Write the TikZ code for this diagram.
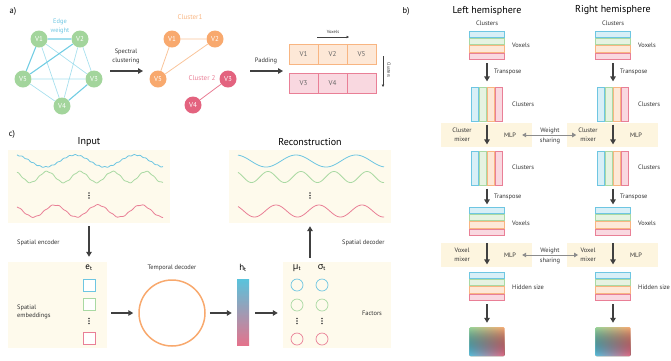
\documentclass[tikz,border=0pt]{standalone}
\usepackage{fontspec}
\setmainfont{PT Sans}
\newfontfamily\grk{Open Sans}
\usetikzlibrary{arrows.meta,fit,fadings,calc}
\definecolor{cb}{HTML}{6EC6E2}
\definecolor{cbF}{HTML}{D8EFF7}
\definecolor{cg}{HTML}{A9D9A3}
\definecolor{cgF}{HTML}{E6F3E2}
\definecolor{co}{HTML}{F8B581}
\definecolor{coF}{HTML}{FDE8D7}
\definecolor{cp}{HTML}{E97F96}
\definecolor{cpF}{HTML}{F9D8E0}
\definecolor{panel}{HTML}{FEFAEC}
\definecolor{band}{HTML}{FDF5DF}
\definecolor{ink}{HTML}{404040}
\definecolor{txt}{HTML}{333333}
\definecolor{gnd}{HTML}{A3D59C}
\definecolor{ond}{HTML}{F8A96E}
\definecolor{pnd}{HTML}{E3637F}
\definecolor{edgeT}{HTML}{72CDE3}
\definecolor{edgeL}{HTML}{A8E0EE}
\definecolor{wsh}{HTML}{8C8C8C}
\definecolor{sqG}{HTML}{9DD79B}
\definecolor{sqO}{HTML}{F9AD75}
\definecolor{sqB}{HTML}{5EC2E0}
\definecolor{sqP}{HTML}{E86F89}
\definecolor{hB}{HTML}{59C3DC}
\definecolor{hG}{HTML}{8FCEA5}
\definecolor{hP}{HTML}{E4738C}
\tikzfading[name=upfade, top color=transparent!100, bottom color=transparent!0]
\tikzset{
 lbl/.style={font=\fontsize{6.4}{8.5}\selectfont, text=txt, inner sep=0},
 tinylbl/.style={font=\fontsize{4.5}{5}\selectfont, text=txt, inner sep=0},
 title/.style={font=\fontsize{10}{12}\selectfont, text=black, inner sep=0},
 plabel/.style={font=\fontsize{8.5}{10}\selectfont, text=black, inner sep=0},
 sym/.style={font=\fontsize{9}{10}\selectfont, text=black, inner sep=0},
 arr/.style={draw=ink, line width=1.2pt, -{Triangle[length=5pt,width=5.5pt]}},
 thinarr/.style={draw=ink, line width=0.6pt, -{Triangle[length=2.5pt,width=2.5pt]}},
 wsarr/.style={draw=wsh, line width=0.9pt, {Triangle[length=4pt,width=4.5pt]}-{Triangle[length=4pt,width=4.5pt]}},
 vnode/.style={circle, minimum size=17pt, inner sep=0, text=white, font=\fontsize{7}{8}\selectfont},
 cell/.style={rectangle, minimum width=29pt, minimum height=20pt, inner sep=0, line width=0.6pt, text=black!60, font=\fontsize{7}{8}\selectfont},
 hbar/.style={rectangle, minimum width=35pt, minimum height=6.4pt, inner sep=0, line width=0.8pt},
 vbar/.style={rectangle, minimum width=6.6pt, minimum height=34pt, inner sep=0, line width=0.8pt},
 panelbox/.style={rectangle, fill=panel, inner sep=0},
 bandbox/.style={rectangle, fill=band, inner sep=0, minimum width=91pt, minimum height=24pt},
 fc/.style={circle, minimum size=12pt, inner sep=0, line width=0.7pt},
 sqbox/.style={rectangle, minimum width=11.5pt, minimum height=11.5pt, inner sep=0, line width=1pt, fill=white},
}
\newcommand\hstk[3]{%
  \foreach \cc [count=\k from 0] in {cb,cg,co,cp}{%
    \node[hbar, fill=\cc F, draw=\cc] (#1-\k) at (#2,{#3+3.2+\k*7.4}) {};}%
  \node[fit=(#1-0)(#1-3), inner sep=0] (#1) {};}
\newcommand\vstk[3]{%
  \foreach \cc [count=\k from 0] in {cb,cg,co,cp}{%
    \node[vbar, fill=\cc F, draw=\cc] (#1-\k) at ({#2-12+\k*8},{#3+17}) {};}%
  \node[fit=(#1-0)(#1-3), inner sep=0] (#1) {};}
\begin{document}
\begin{tikzpicture}[x=1pt,y=-1pt]
\useasboundingbox (0,0) rectangle (671,360);
% ---------------- panel a
\node[plabel] (la) at (13,11) {a)};
\node[vnode, fill=gnd] (g1) at (39,39) {V1};
\node[vnode, fill=gnd] (g2) at (80,39) {V2};
\node[vnode, fill=gnd] (g3) at (94,79) {V3};
\node[vnode, fill=gnd] (g4) at (62,106) {V4};
\node[vnode, fill=gnd] (g5) at (23,79) {V5};
\node[lbl, text=cb, align=center] (ew) at (60,26.5) {Edge\\weight};
\draw[edgeL, line width=0.7pt] (g1)--(g3) (g1)--(g4) (g2)--(g3) (g2)--(g4) (g5)--(g3) (g5)--(g4);
\draw[edgeT, line width=1.1pt] (g1)--(g2) (g1)--(g5) (g2)--(g5) (g3)--(g4);
\coordinate (sa1) at (110,71); \coordinate (sa2) at (143,71);
\draw[arr] (sa1)--(sa2);
\node[lbl, align=center] (spc) at (126,56.5) {Spectral\\clustering};
\node[vnode, fill=ond] (c1) at (172,39) {V1};
\node[vnode, fill=ond] (c2) at (215,39) {V2};
\node[vnode, fill=ond] (c5) at (158,79) {V5};
\node[vnode, fill=pnd] (c3) at (228,79) {V3};
\node[vnode, fill=pnd] (c4) at (193,105) {V4};
\node[font=\fontsize{7}{8}\selectfont, text=co, inner sep=0] (cl1) at (190,17) {Cluster1};
\node[font=\fontsize{7}{8}\selectfont, text=cp, inner sep=0] (cl2) at (202,78) {Cluster 2};
\draw[co!80, line width=0.8pt] (c1)--(c2) (c1)--(c5) (c2)--(c5);
\draw[cp, line width=0.8pt] (c3)--(c4);
\coordinate (pa1) at (250,71); \coordinate (pa2) at (283,71);
\draw[arr] (pa1)--(pa2);
\node[lbl] (pad) at (266,61) {Padding};
\node[cell, fill=coF, draw=co] (t1) at (303.5,54) {V1};
\node[cell, fill=coF, draw=co] (t2) at (332.5,54) {V2};
\node[cell, fill=coF, draw=co] (t3) at (361.5,54) {V5};
\node[cell, fill=cpF, draw=cp] (t4) at (303.5,83.5) {V3};
\node[cell, fill=cpF, draw=cp] (t5) at (332.5,83.5) {V4};
\node[cell, fill=cpF, draw=cp] (t6) at (361.5,83.5) {};
\coordinate (vx1) at (317,37); \coordinate (vx2) at (349,37);
\draw[thinarr] (vx1)--(vx2);
\node[tinylbl] (vxl) at (333,32) {Voxels};
\coordinate (cx1) at (383,56); \coordinate (cx2) at (383,87);
\draw[thinarr] (cx1)--(cx2);
\node[tinylbl, rotate=-90] (cxl) at (389,70) {Clusters};
% ---------------- panel c
\node[plabel] (lc) at (12,134) {c)};
\node[title] (tin) at (89,142) {Input};
\node[panelbox, minimum width=162pt, minimum height=73pt] (inp) at (89,186.5) {};
\draw[cb, line width=0.8pt] plot[domain=17:163, samples=300] (\x, {161 - 6*cos(6*(\x-75)) + 0.45*sin(\x*61)});
\draw[cg, line width=0.8pt] plot[domain=17:163, samples=300] (\x, {177 - 5.5*cos(10.909*(\x-47)) + 0.45*sin(\x*53)});
\draw[cp, line width=0.8pt] plot[domain=17:163, samples=300] (\x, {211 - 6*cos(8.372*(\x-55)) + 0.45*sin(\x*47)});
\foreach \yy in {193,195.5,198} \fill[ink] (89,\yy) circle (0.9pt);
\node[lbl, anchor=west] (senc) at (17,243) {Spatial encoder};
\node[panelbox, minimum width=99pt, minimum height=86pt] (emb) at (57.5,305) {};
\node[sym] (et) at (89,268) {e\textsubscript{t}};
\node[sqbox, draw=cb] (eb1) at (89.5,285.5) {};
\node[sqbox, draw=cg] (eb2) at (89.5,304.5) {};
\node[sqbox, draw=cp] (eb3) at (89.5,338.5) {};
\foreach \yy in {318.5,321,323.5} \fill[ink] (89,\yy) circle (0.9pt);
\node[lbl, anchor=west, align=left] (semb) at (17,312) {Spatial\\embeddings};
\node[circle, draw=ond, line width=1.5pt, minimum size=66pt, inner sep=0] (td) at (172,313) {};
\node[lbl] (tdl) at (172,268) {Temporal decoder};
\node[rectangle, minimum width=12pt, minimum height=66pt, inner sep=0, top color=hB, middle color=hG, bottom color=hP] (ht) at (243,312) {};
\node[sym] (htl) at (243,268) {h\textsubscript{t}};
\node[panelbox, minimum width=108pt, minimum height=86pt] (fac) at (337,305) {};
\node[sym] (mu) at (297,268) {{\grk μ}\textsubscript{t}};
\node[sym] (sg) at (322,268) {{\grk σ}\textsubscript{t}};
\foreach \xx/\n in {297/m,322/s}{
  \node[fc, draw=cb] (\n1) at (\xx,285) {};
  \node[fc, draw=cg] (\n2) at (\xx,305) {};
  \node[fc, draw=cp] (\n3) at (\xx,339) {};
  \foreach \yy in {318.5,321,323.5} \fill[ink] (\xx,\yy) circle (0.9pt);
}
\node[lbl] (facl) at (372,313) {Factors};
\node[panelbox, minimum width=162pt, minimum height=73pt] (rec) at (310,186.5) {};
\node[title] (trec) at (310,142) {Reconstruction};
\draw[cb, line width=0.8pt] plot[domain=238:384, samples=200] (\x, {161 - 6*cos(6*(\x-296))});
\draw[cg, line width=0.8pt] plot[domain=238:384, samples=200] (\x, {177 - 5.5*cos(10.909*(\x-268))});
\draw[cp, line width=0.8pt] plot[domain=238:384, samples=200] (\x, {211 - 6*cos(8.372*(\x-276))});
\foreach \yy in {193,195.5,198} \fill[ink] (310,\yy) circle (0.9pt);
\node[lbl, anchor=west] (sdec) at (342,243) {Spatial decoder};
\draw[arr, shorten <=3pt, shorten >=5pt] (inp.south) -- (inp.south |- emb.north);
\draw[arr, shorten <=4pt, shorten >=5pt] (emb.east |- td) -- (td.west);
\draw[arr, shorten <=4pt, shorten >=5pt] (td.east) -- (ht.west |- td.east);
\draw[arr, shorten <=6pt, shorten >=5pt] (ht.east |- td) -- (fac.west |- td);
\draw[arr, shorten <=4pt, shorten >=3pt] (rec.south |- fac.north) -- (rec.south);
% ---------------- panel b
\node[plabel] (lb) at (406,11) {b)};
\node[title] (lh) at (487,10.5) {Left hemisphere};
\node[title] (rh) at (613,10.5) {Right hemisphere};
\node[bandbox] (bL1) at (486.5,135) {};
\node[bandbox] (bR1) at (612.5,135) {};
\node[bandbox] (bL2) at (486.5,255) {};
\node[bandbox] (bR2) at (612.5,255) {};
\foreach \s/\X/\XL in {L/487/512, R/613/638}{
  \node[lbl] (clu\s) at (\X,23) {Clusters};
  \hstk{A\s}{\X}{31}
  \node[lbl, anchor=west] (vA\s) at (\XL,45) {Voxels};
  \vstk{B\s}{\X}{87}
  \node[lbl, anchor=west] (cB\s) at (\XL,104) {Clusters};
  \node[lbl, anchor=west] (tA\s) at ({\X+7},72) {Transpose};
  \vstk{C\s}{\X}{151}
  \node[lbl, anchor=west] (cC\s) at (\XL,167) {Clusters};
  \node[lbl, anchor=west] (tC\s) at ({\X+7},197) {Transpose};
  \hstk{D\s}{\X}{207}
  \node[lbl, anchor=west] (vD\s) at (\XL,223) {Voxels};
  \hstk{E\s}{\X}{272}
  \node[lbl, anchor=west] (hE\s) at (\XL,287) {Hidden size};
  \node[lbl, align=center] (cm\s) at ({\X-25},135) {Cluster\\mixer};
  \node[lbl] (mlp\s) at ({\X+23},135) {MLP};
  \node[lbl, align=center] (vm\s) at ({\X-25},255) {Voxel\\mixer};
  \node[lbl] (mlq\s) at ({\X+23},255) {MLP};
  \node[rectangle, rounded corners=1.2pt, minimum width=35pt, minimum height=29pt, inner sep=0, left color=sqG, right color=sqO] (F\s) at (\X,341.5) {};
  \draw[arr, shorten <=3pt, shorten >=5pt] (A\s.south) -- (B\s.north);
  \draw[arr, shorten <=3pt, shorten >=6pt] (B\s.south) -- (C\s.north);
  \draw[arr, shorten <=3pt, shorten >=2pt] (C\s.south) -- (D\s.north);
  \draw[arr, shorten <=7pt, shorten >=7pt] (D\s.south) -- (E\s.north);
  \draw[arr, shorten <=3pt, shorten >=4pt] (E\s.south) -- (F\s.north);
}
\draw[wsarr, shorten <=6pt, shorten >=2pt] (mlpL.east) -- (mlpL.east -| cmR.west);
\node[lbl, align=center, font=\fontsize{6.4}{10}\selectfont] (ws1) at (550,136) {Weight\\sharing};
\draw[wsarr, shorten <=6pt, shorten >=2pt] (mlqL.east) -- (mlqL.east -| vmR.west);
\node[lbl, align=center, font=\fontsize{6.4}{10}\selectfont] (ws2) at (550,256) {Weight\\sharing};
\fill[rounded corners=1.2pt, path fading=upfade, left color=sqB, right color=sqP] (FL.north west) rectangle (FL.south east);
\fill[rounded corners=1.2pt, path fading=upfade, left color=sqB, right color=sqP] (FR.north west) rectangle (FR.south east);
\end{tikzpicture}
\end{document}
